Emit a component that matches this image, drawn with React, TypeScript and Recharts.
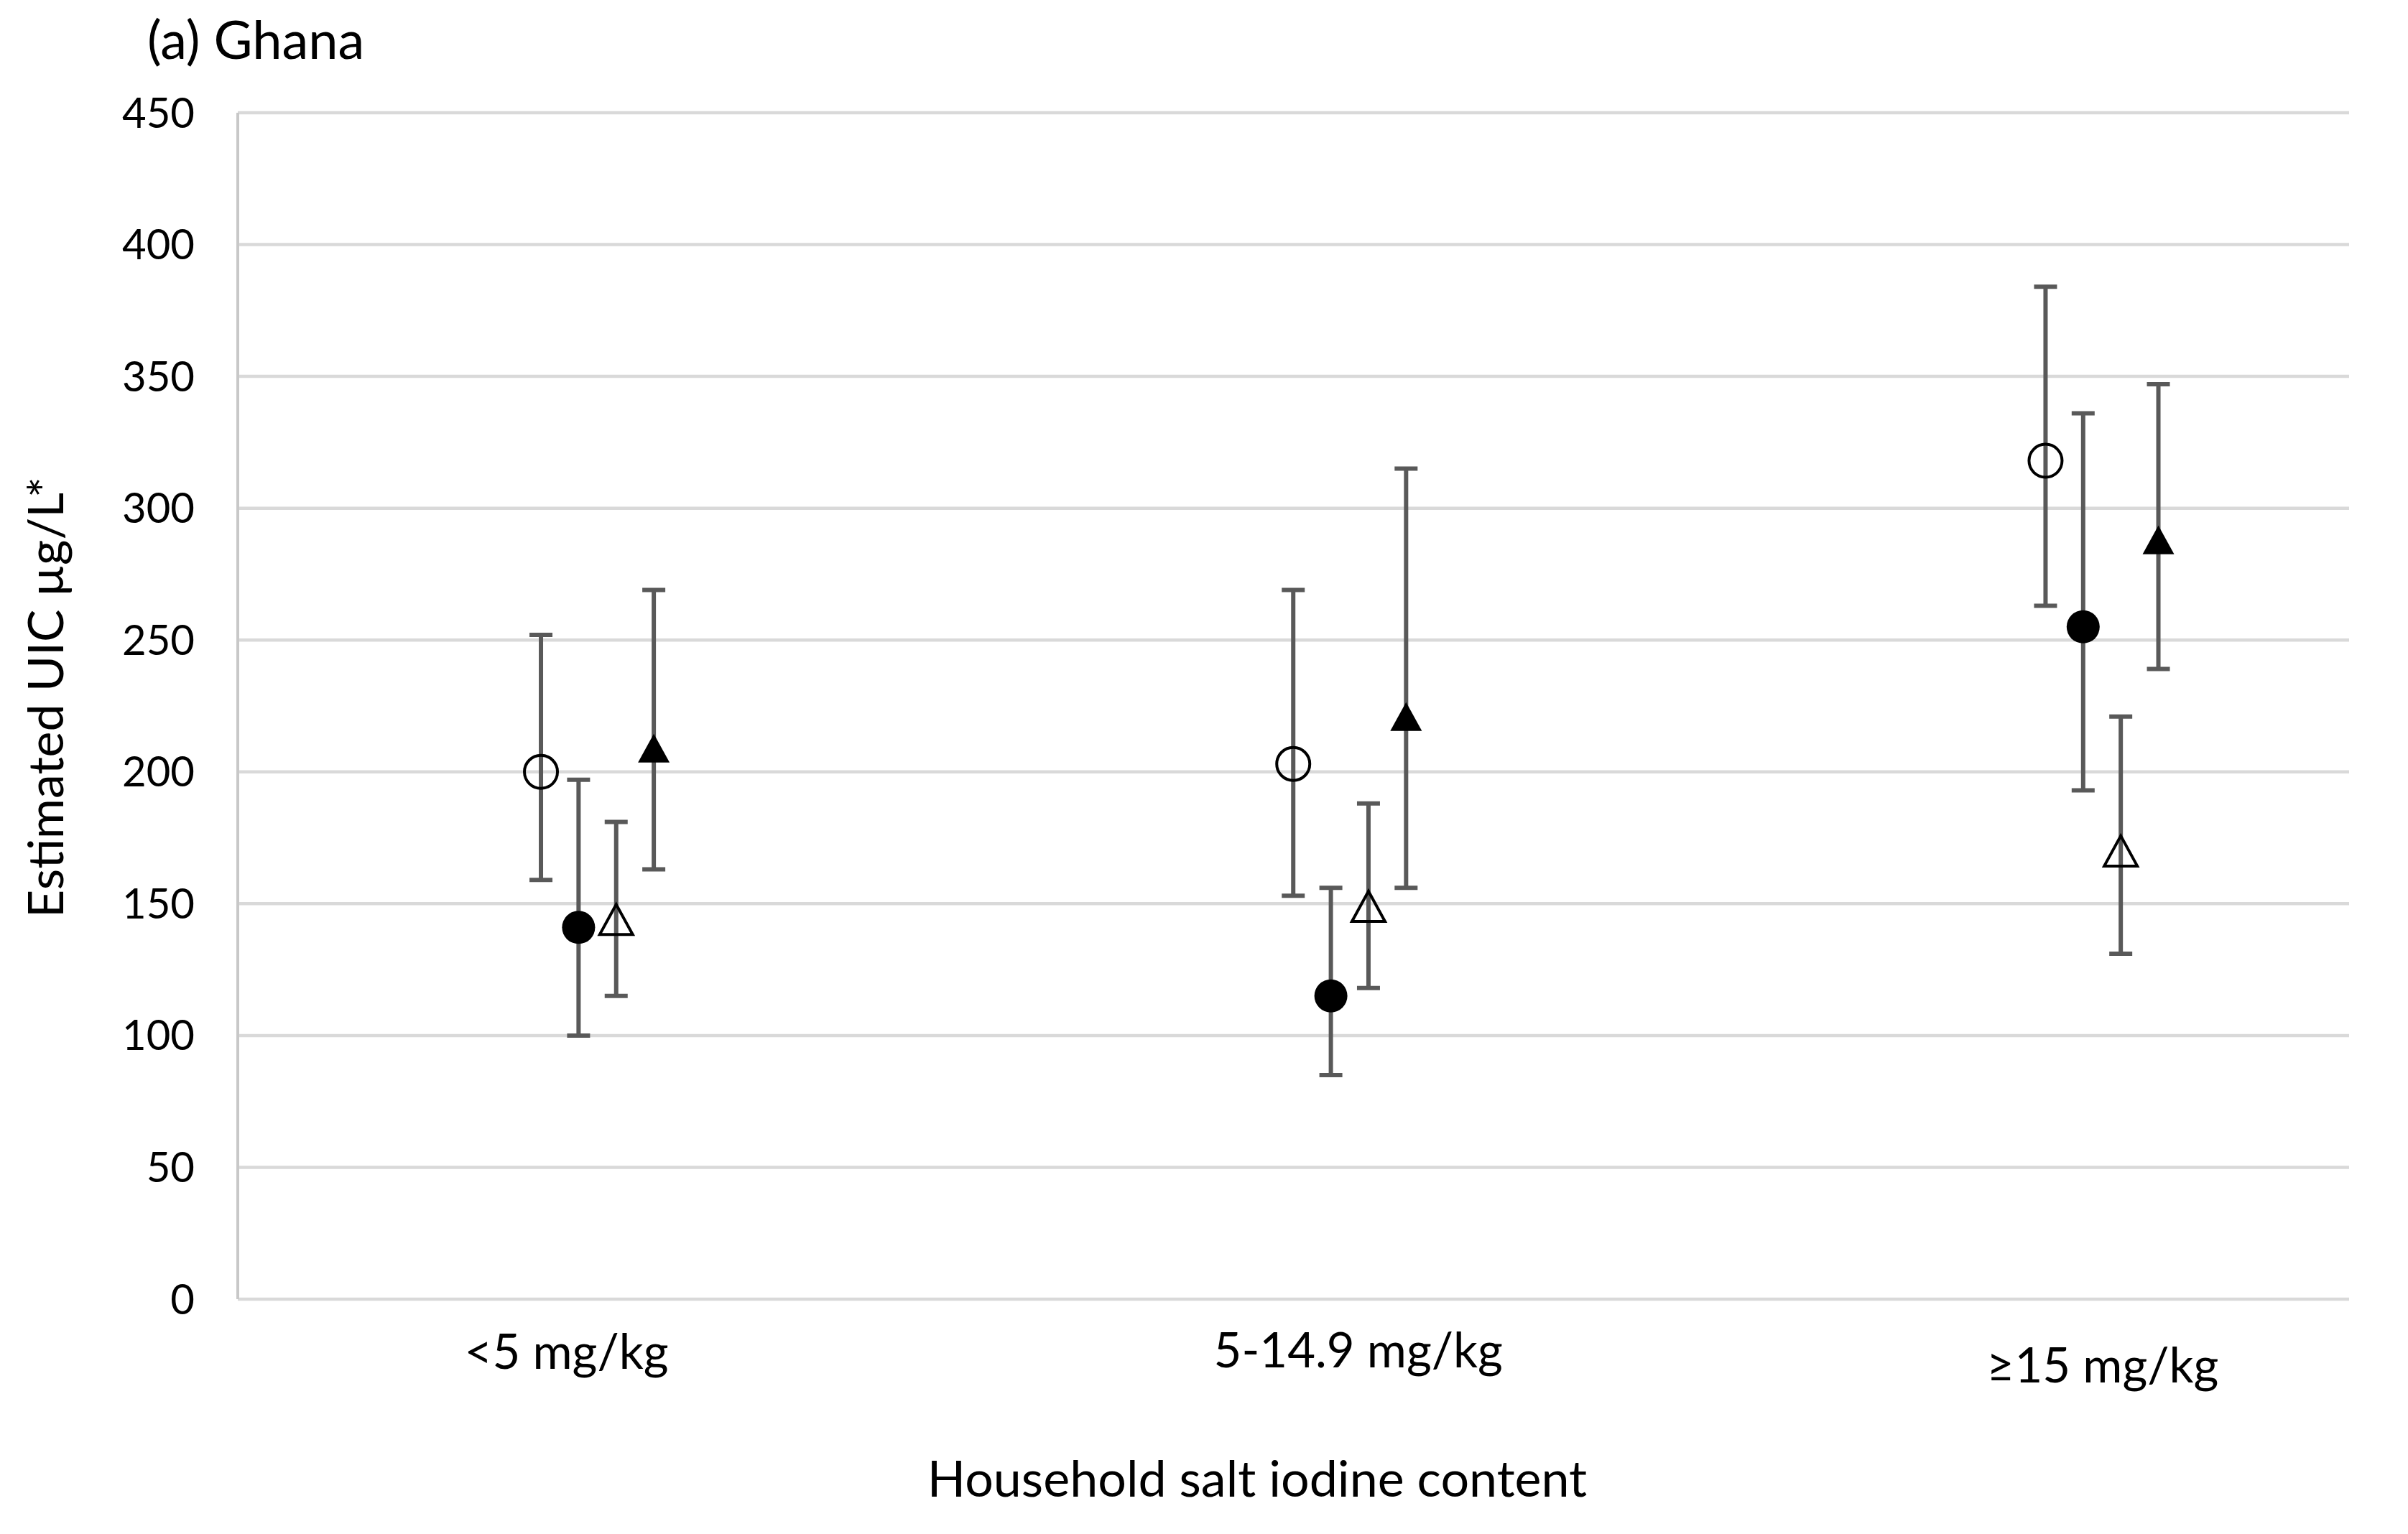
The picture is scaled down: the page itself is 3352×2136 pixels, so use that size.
import { ScatterChart, Scatter, XAxis, YAxis, CartesianGrid, ErrorBar } from "recharts"

// household salt iodine content groups
const categories = ["<5 mg/kg", "5-14.9 mg/kg", "≥15 mg/kg"]
const yTicks = [0, 50, 100, 150, 200, 250, 300, 350, 400, 450]

// estimated UIC (µg/L) with lower / upper bounds
const openCircleMean = [200, 203, 318]
const openCircleLow = [159, 153, 263]
const openCircleHigh = [252, 269, 384]

const filledCircleMean = [141, 115, 255]
const filledCircleLow = [100, 85, 193]
const filledCircleHigh = [197, 156, 336]

const openTriangleMean = [144, 149, 170]
const openTriangleLow = [115, 118, 131]
const openTriangleHigh = [181, 188, 221]

const filledTriangleMean = [209, 221, 288]
const filledTriangleLow = [163, 156, 239]
const filledTriangleHigh = [269, 315, 347]

const FONT = "Lato, 'Open Sans', sans-serif"
const BAR_COLOR = "#595959"

function toPoints(mean: number[], low: number[], high: number[], offset: number) {
  return mean.map((m, i) => ({
    x: i + 1 + offset,
    y: m,
    err: [m - low[i], high[i] - m],
    group: categories[i],
  }))
}

const OpenCircle = (p: any) => (
  <circle cx={p.cx} cy={p.cy} r={23} fill="none" stroke="#000" strokeWidth={4} />
)
const FilledCircle = (p: any) => <circle cx={p.cx} cy={p.cy} r={23} fill="#000" />
const triangle = (cx: number, cy: number, w: number, h: number) =>
  `${cx - w},${cy + h} ${cx},${cy - h} ${cx + w},${cy + h}`
const OpenTriangle = (p: any) => (
  <polygon
    points={triangle(p.cx, p.cy, 23, 21)}
    fill="none"
    stroke="#000"
    strokeWidth={4}
    strokeLinejoin="miter"
  />
)
const FilledTriangle = (p: any) => (
  <polygon points={triangle(p.cx, p.cy, 22, 20)} fill="#000" />
)
const NoShape = () => <g />

const series = [
  { key: "oc", data: toPoints(openCircleMean, openCircleLow, openCircleHigh, -0.075), shape: OpenCircle },
  { key: "fc", data: toPoints(filledCircleMean, filledCircleLow, filledCircleHigh, -0.025), shape: FilledCircle },
  { key: "ot", data: toPoints(openTriangleMean, openTriangleLow, openTriangleHigh, 0.025), shape: OpenTriangle },
  { key: "ft", data: toPoints(filledTriangleMean, filledTriangleLow, filledTriangleHigh, 0.075), shape: FilledTriangle },
]

// labels were placed by hand in the original, so nudge them a bit
const LABEL_DX = [-43, 12, 1]
const LABEL_DY = [97, 95, 116]

function CategoryTick(props: any) {
  const { x, y, payload, index } = props
  return (
    <text
      x={x + LABEL_DX[index]}
      y={y + LABEL_DY[index]}
      textAnchor="middle"
      fontFamily={FONT}
      fontSize={67}
      fill="#000"
    >
      {categories[payload.value - 1]}
    </text>
  )
}

export default function App() {
  return (
    <div style={{ width: 3352, height: 2136, background: "#fff" }}>
      <style>{"body{margin:0}"}</style>
      <ScatterChart
        width={3352}
        height={2136}
        margin={{ top: 157, right: 82, bottom: 227, left: 0 }}
      >
        <CartesianGrid vertical={false} stroke="#d9d9d9" strokeWidth={4.5} />
        <XAxis
          type="number"
          dataKey="x"
          domain={[0.522, 3.3285]}
          ticks={[1, 2, 3]}
          allowDataOverflow
          height={100}
          axisLine={false}
          tickLine={false}
          tickSize={0}
          tickMargin={0}
          tick={<CategoryTick />}
          label={{
            content: () => (
              <text x={1750} y={2084} textAnchor="middle" fontFamily={FONT} fontSize={70} fill="#000">
                Household salt iodine content
              </text>
            ),
          }}
        />
        <YAxis
          type="number"
          dataKey="y"
          domain={[0, 450]}
          ticks={yTicks}
          allowDataOverflow
          width={331}
          axisLine={{ stroke: "#c8c8c8", strokeWidth: 4 }}
          tickLine={false}
          tickSize={0}
          tickMargin={60}
          tick={{ fill: "#000", fontSize: 58, fontFamily: FONT }}
          label={{
            content: () => (
              <text
                x={88}
                y={971}
                transform="rotate(-90 88 971)"
                textAnchor="middle"
                fontFamily={FONT}
                fontSize={68}
                fill="#000"
              >
                Estimated UIC µg/L*
              </text>
            ),
          }}
        />
        {series.map((s) => (
          <Scatter key={s.key + "-err"} data={s.data} shape={NoShape} isAnimationActive={false}>
            <ErrorBar dataKey="err" direction="y" width={16} stroke={BAR_COLOR} strokeWidth={6} />
          </Scatter>
        ))}
        {series.map((s) => (
          <Scatter key={s.key} data={s.data} shape={s.shape} isAnimationActive={false} />
        ))}
        <text x={205} y={82} fontFamily={FONT} fontSize={74} fill="#000">
          (a) Ghana
        </text>
      </ScatterChart>
    </div>
  )
}
